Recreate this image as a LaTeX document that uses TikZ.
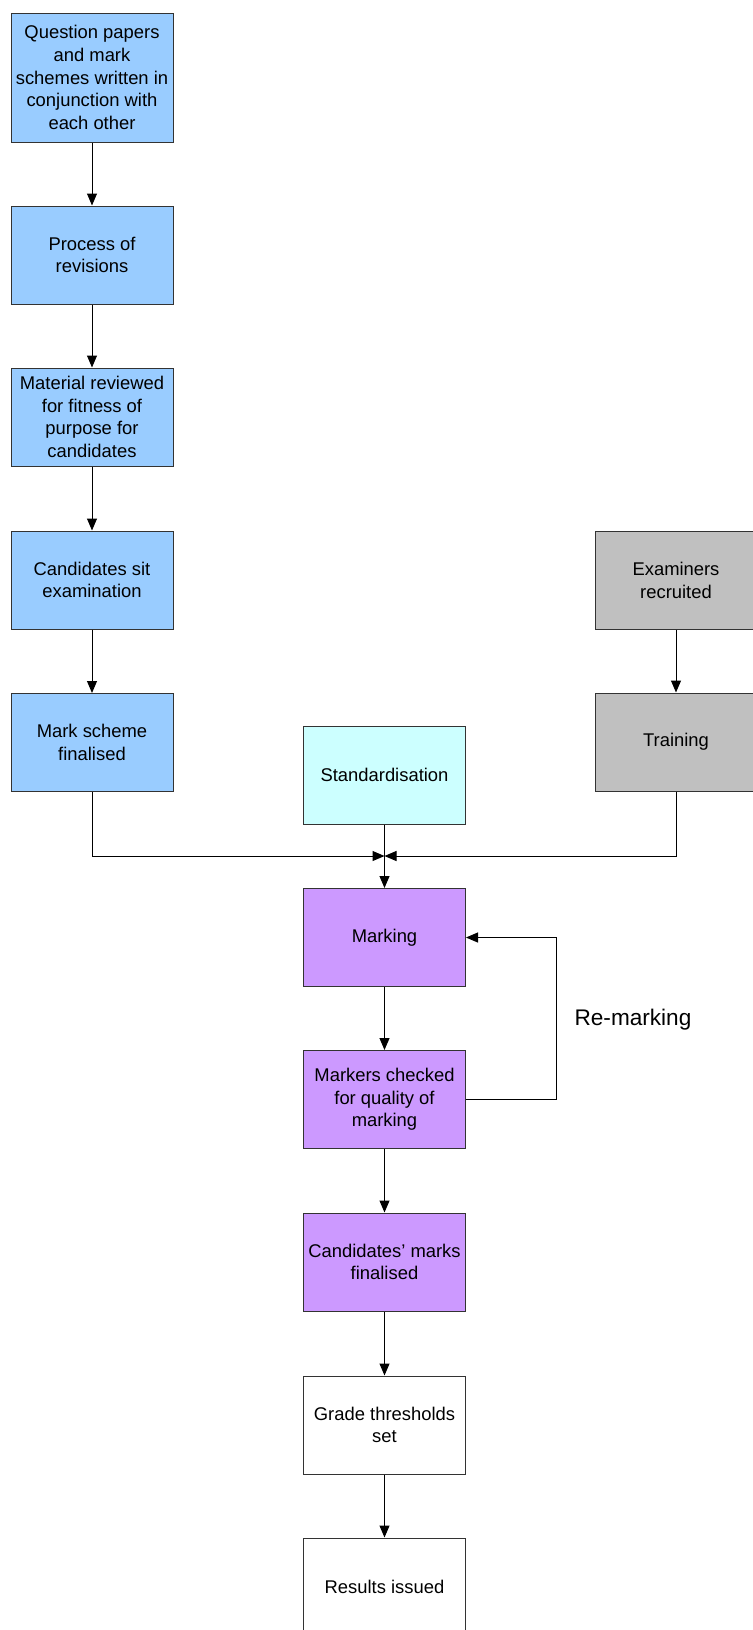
\documentclass[tikz,border=0pt]{standalone}
\usepackage{fontspec}
\setmainfont{Liberation Sans}
\usetikzlibrary{positioning,calc,arrows.meta}

\definecolor{bluebox}{HTML}{99CCFF}
\definecolor{greybox}{HTML}{C0C0C0}
\definecolor{cyanbox}{HTML}{CCFFFF}
\definecolor{lilacbox}{HTML}{CC99FF}

\begin{document}
\begin{tikzpicture}[x=0.5pt,y=-0.5pt,
	stage/.style={draw=black!80, line width=0.5pt, minimum width=81pt, minimum height=49pt, align=center, inner sep=1pt, font=\fontsize{9.2}{11.3}\selectfont},
	arr/.style={line width=0.5pt, -{Triangle[width=5pt,length=6pt]}}]
			\useasboundingbox (0,0) rectangle (752,1630);
			% left column
			\node[stage, fill=bluebox, minimum height=64.5pt] (paper) at (92, 77.5) {Question papers\\and mark\\schemes written in\\conjunction with\\each other};
			\node[stage, fill=bluebox] (revise) at (92, 255) {Process of\\revisions};
			\node[stage, fill=bluebox] (review) at (92, 417) {Material reviewed\\for fitness of\\purpose for\\candidates};
			\node[stage, fill=bluebox] (sit) at (92, 580) {Candidates sit\\examination};
			\node[stage, fill=bluebox] (scheme) at (92, 742.5) {Mark scheme\\finalised};
			% right column
			\node[stage, fill=greybox] (recruit) at (676, 580.5) {Examiners\\recruited};
			\node[stage, fill=greybox] (train) at (676, 742) {Training};
			% centre column
			\node[stage, fill=cyanbox] (std) at (384.5, 775) {Standardisation};
			\node[stage, fill=lilacbox] (mark) at (384.5, 937.5) {Marking};
			\node[stage, fill=lilacbox] (check) at (384.5, 1099.5) {Markers checked\\for quality of\\marking};
			\node[stage, fill=lilacbox] (final) at (384.5, 1262) {Candidates' marks\\finalised};
			\node[stage] (grade) at (384.5, 1425) {Grade thresholds\\set};
			\node[stage] (result) at (384.5, 1587) {Results issued};
			\coordinate (join) at (384.5, 856);
			\coordinate (loop) at (556, 937.5);
			\node[font=\fontsize{11.3}{13.5}\selectfont] (remark) at (633, 1020) {Re-marking};
			\draw[arr] (paper) -- (revise);
			\draw[arr] (revise) -- (review);
			\draw[arr] (review) -- (sit);
			\draw[arr] (sit) -- (scheme);
			\draw[arr] (recruit) -- (train);
			\draw[arr] (scheme) |- (join);
			\draw[arr] (train) |- (join);
			\draw[arr] (std) -- (mark);
			\draw[arr] (mark) -- (check);
			\draw[arr] (check.east) -| (loop) -- (mark.east);
			\draw[arr] (check) -- (final);
			\draw[arr] (final) -- (grade);
			\draw[arr] (grade) -- (result);
\end{tikzpicture}
\end{document}
